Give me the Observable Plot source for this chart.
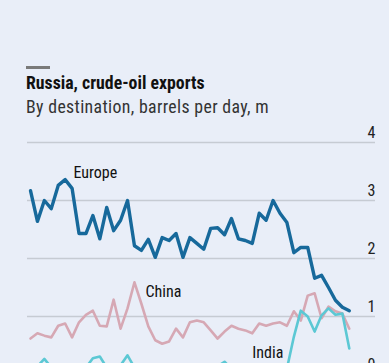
<!DOCTYPE html>
<html><head><meta charset="utf-8">
<script src="https://cdn.jsdelivr.net/npm/d3@7"></script>
<script src="https://cdn.jsdelivr.net/npm/@observablehq/plot@0.6"></script>
<style>
html,body{margin:0;padding:0;background:#e9eef8;overflow:hidden;width:389px;height:363px}
#wrap{position:relative;width:389px;height:363px;font-family:"Liberation Sans Narrow","Roboto Condensed",Roboto,sans-serif}
#bar{position:absolute;left:26px;top:66px;width:24px;height:2.5px;background:#7a7a7a}
#title{position:absolute;left:26px;top:73px;font-size:17.8px;font-weight:bold;color:#111;line-height:20px;white-space:nowrap}
#sub{position:absolute;left:26px;top:97px;font-size:17.8px;color:#333;line-height:20px;white-space:nowrap;letter-spacing:0.35px}
#chart{position:absolute;left:0;top:118px}
</style></head><body>
<div id="wrap"><div id="bar"></div><div id="title">Russia, crude-oil exports</div><div id="sub">By destination, barrels per day, m</div><div id="chart"></div></div>
<script>
const europe = [3.17,2.64,3.00,2.86,3.26,3.36,3.21,2.43,2.43,2.74,2.34,2.88,2.48,2.66,3.00,2.22,2.14,2.33,2.02,2.36,2.31,2.43,2.02,2.36,2.26,2.16,2.52,2.53,2.41,2.69,2.34,2.31,2.26,2.78,2.66,3.00,2.78,2.62,2.10,2.19,2.19,1.66,1.71,1.50,1.28,1.16,1.10];
const china = [0.62,0.71,0.67,0.64,0.84,0.88,0.64,0.90,1.03,1.10,0.84,0.83,1.29,0.79,1.14,1.59,1.22,0.83,0.59,0.53,0.57,0.79,0.64,0.90,0.93,0.90,0.76,0.62,0.74,0.84,0.79,0.76,0.71,0.88,0.84,0.88,0.90,0.84,1.09,0.93,1.36,1.40,0.97,1.17,1.09,1.05,0.79];
const india = [0.05,0.14,0.27,0.12,0.05,0.10,0.14,0.06,0.12,0.28,0.31,0.12,0.05,0.16,0.33,0.12,0.06,0.05,0.03,0.05,0.06,0.04,0.05,0.08,0.06,0.05,0.08,0.14,0.22,0.10,0.05,0.06,0.04,0.05,0.06,0.05,0.06,0.10,0.65,1.10,1.00,0.74,1.02,1.14,1.03,1.05,0.45];
const yTicks = [0,1,2,3,4];
const seriesNames = ["China","India","Europe"];
const seriesColors = ["#d6a8b4","#5cc8d4","#17699b"];
const seriesWidths = [2.6,2.6,3.4];
const labelNames = ["Europe","China","India"];
const labelX = [6.2,16.6,32.0];
const labelY = [3.47,1.43,0.38];

const valuesByName = {Europe: europe, China: china, India: india};
const rows = seriesNames.flatMap(n => valuesByName[n].map((v,i)=>({name:n,i,v})));
const labelRows = labelNames.map((n,k)=>({name:n,i:labelX[k],v:labelY[k]}));

const lineMarks = seriesNames.map((n,k)=>Plot.line(rows.filter(d=>d.name===n),{
  x:"i", y:"v", stroke: seriesColors[k], strokeWidth: seriesWidths[k], strokeLinejoin:"round", strokeLinecap:"round"
}));

const plot = Plot.plot({
  width:389, height:276, marginTop:24, marginBottom:20, marginLeft:27, marginRight:14,
  x:{domain:[0,46], insetLeft:3, insetRight:26.2, axis:null},
  y:{domain:[0,4], axis:null},
  style:{background:"transparent", fontFamily:'"Liberation Sans Narrow","Roboto Condensed",Roboto,sans-serif', fontSize:"15px", color:"#222", overflow:"visible"},
  marks:[
    Plot.ruleY(yTicks,{stroke:"#c6cbd3", strokeWidth:1.3}),
    Plot.axisY(yTicks,{anchor:"right", tickSize:0, tickPadding:0, textAnchor:"end", dy:-9.5, fontSize:16, fill:"#222", label:null, tickFormat:"d"}),
    ...lineMarks,
    Plot.text(labelRows,{x:"i", y:"v", text:"name", textAnchor:"start", fontSize:16, fill:"#111"})
  ]
});
document.getElementById("chart").appendChild(plot);
</script>
</body></html>
